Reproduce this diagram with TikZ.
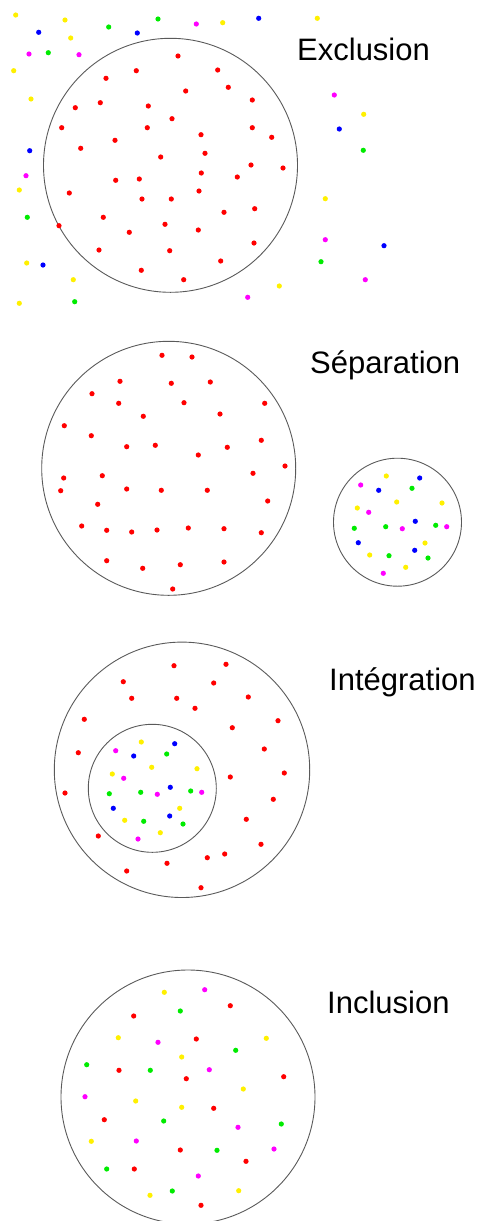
\documentclass[tikz,border=0pt]{standalone}
\usepackage{fontspec}
\setmainfont{Liberation Sans}
\definecolor{dR}{RGB}{255,0,0}
\definecolor{dB}{RGB}{0,0,255}
\definecolor{dG}{RGB}{0,235,0}
\definecolor{dY}{RGB}{255,240,0}
\definecolor{dM}{RGB}{255,0,255}
\definecolor{ring}{RGB}{90,90,90}
\tikzset{
  ringline/.style={draw=ring, line width=0.9pt},
  lbl/.style={anchor=base west, inner sep=0pt, font=\fontsize{31}{36}\selectfont}
}
\begin{document}
\begin{tikzpicture}[x=1pt,y=-1pt]
\useasboundingbox (0,0) rectangle (479,1221);
\def\dotrad{2.6}
% ---------- Exclusion ----------
\draw[ringline] (170.5,165.3) circle (127);
\node[lbl] (ex) at (297,60) {Exclusion};
\foreach \p in {(15.7,15),(65,20),(70.7,38),(13.7,70.7),(31,99),(19.3,190),(26.7,263),(73.3,279.7),(19.3,303.3),(222.7,22.7),(317.3,18.3),(363.7,114.3),(325.3,198.7),(279.3,286)}
  \fill[dY] \p circle (\dotrad);
\foreach \p in {(38.7,32.3),(137.3,33),(29.7,150.7),(43,265),(258.7,18.3),(339.3,129),(384,245.7)}
  \fill[dB] \p circle (\dotrad);
\foreach \p in {(108.7,27),(158,19),(48.3,52.7),(27.3,217.3),(74.7,301.7),(363.3,150.3),(321,261.7)}
  \fill[dG] \p circle (\dotrad);
\foreach \p in {(29,54),(79,54.7),(196.3,24),(26,175.7),(334.3,95),(325.3,239.7),(365.3,279.7),(247.7,297.3)}
  \fill[dM] \p circle (\dotrad);
\foreach \p in {(178,56),(136.3,70.7),(217.7,70),(106,78.3),(228.3,87.3),(185.7,91),(75.3,107.7),(100.3,102.7),(148.3,106),(172,118.7),(61.7,127.7),(147.3,127.7),(201,134.7),(80.7,148.3),(115,140.3),(205,153.3),(160.7,157),(201.3,173),(237.3,177),(115.7,180.3),(139.3,179),(199,191),(69.3,193),(142,199),(171.3,199),(224,212.3),(103.3,217.3),(59,225.7),(165,224.3),(129.3,232.3),(198.3,230),(99,250),(169.7,250.7),(220.7,261),(141.3,270.3),(183.7,279.7),(252.3,100),(252.3,127.7),(271.7,137.3),(251,165),(283,168),(254.7,208.7),(254,243)}
  \fill[dR] \p circle (\dotrad);
% ---------- Separation ----------
\draw[ringline] (168.7,468.3) circle (127);
\draw[ringline] (397.5,522.2) circle (64);
\node[lbl] (sep) at (310,373.3) {Séparation};
\foreach \p in {(162,355.3),(192,357),(120,381.3),(171.3,383.3),(210.3,382),(92,393.7),(118.7,403.3),(184,402.7),(264.7,403.3),(143.3,416.3),(220,414),(64.3,425.7),(91.3,435.7),(126.7,446.7),(155.3,445.3),(227.3,447.3),(261.3,440.3),(198.3,455),(285,466),(253,473.3),(63.7,478),(102.3,475.7),(60.7,490.7),(126.7,489),(161.3,490.3),(207.3,490.3),(267.7,501),(97.7,504.3),(81.7,526),(106.7,530.3),(131.7,532),(157,530),(188.3,528),(224,528.7),(261.3,532.7),(106.7,560.7),(142.7,568.3),(180.3,564.7),(224,562),(172.7,589)}
  \fill[dR] \p circle (\dotrad);
\foreach \p in {(386.3,476),(396.7,502),(357.3,508),(442,503),(425,543),(369.7,555),(405.7,567.3)}
  \fill[dY] \p circle (\dotrad);
\foreach \p in {(419.7,478),(378.7,490.3),(415.3,521.3),(358.3,542.7),(414.7,550.3)}
  \fill[dB] \p circle (\dotrad);
\foreach \p in {(360.7,485),(368.7,512.3),(402.3,528.7),(446.7,526.7),(383.3,573.3)}
  \fill[dM] \p circle (\dotrad);
\foreach \p in {(412,488.3),(354.3,528.3),(385.7,526.7),(435.7,525.3),(389,555.7),(428,558)}
  \fill[dG] \p circle (\dotrad);
% ---------- Integration ----------
\draw[ringline] (182,769.8) circle (127.7);
\draw[ringline] (152.3,788.3) circle (64);
\node[lbl] (int) at (329,690) {Intégration};
\foreach \p in {(174,665.7),(226,664.3),(123.3,681.7),(213.7,683),(131.7,698.3),(176.7,698.3),(248.3,697),(195,708.3),(84.3,719.3),(278,720.7),(232.3,727.7),(78.3,752.7),(264.3,749),(284.3,773),(230.3,777),(65,793),(273.3,799.3),(246.3,819.3),(98.3,836),(261,844.3),(207.3,857.7),(224.7,854),(167,863.3),(126.7,871),(201,887.7)}
  \fill[dR] \p circle (\dotrad);
\foreach \p in {(141.3,742),(151.7,767.3),(112.3,774),(197,768.7),(179.7,808.3),(124.7,820.3),(160.3,832.7)}
  \fill[dY] \p circle (\dotrad);
\foreach \p in {(174.7,743.7),(133.7,756),(170.3,787.3),(113.3,808.3),(169.7,816)}
  \fill[dB] \p circle (\dotrad);
\foreach \p in {(115.7,750.7),(123.7,778.3),(157.3,794.3),(201.7,792.3),(138,839)}
  \fill[dM] \p circle (\dotrad);
\foreach \p in {(166.7,754),(109.3,793.7),(140.7,792.3),(190.7,791),(143.7,821.3),(183,824)}
  \fill[dG] \p circle (\dotrad);
% ---------- Inclusion ----------
\draw[ringline] (188,1097) circle (127);
\node[lbl] (inc) at (327,1013.3) {Inclusion};
\foreach \p in {(164.3,992.3),(118.3,1037.7),(266.3,1038.3),(181.7,1057),(243.3,1089),(135.7,1101),(181.7,1107.3),(91.3,1141.3),(150,1195.3),(238.7,1190.7)}
  \fill[dY] \p circle (\dotrad);
\foreach \p in {(204.7,989.7),(158,1042.3),(209.3,1069.7),(85,1096.7),(238,1127.3),(136.3,1141),(274,1149),(198.3,1176)}
  \fill[dM] \p circle (\dotrad);
\foreach \p in {(230.3,1005.7),(133.7,1016),(196.3,1039),(119,1070.3),(186.3,1078.7),(283.7,1076.7),(213.7,1108.3),(104.3,1119.7),(180.3,1150),(246,1161.3),(134.3,1169),(201,1205.3)}
  \fill[dR] \p circle (\dotrad);
\foreach \p in {(180.3,1011),(235.7,1050.3),(86.7,1064.7),(150.3,1070.3),(163.7,1121),(281.3,1124),(217,1150.3),(106.7,1169),(172.3,1191)}
  \fill[dG] \p circle (\dotrad);
\end{tikzpicture}
\end{document}
